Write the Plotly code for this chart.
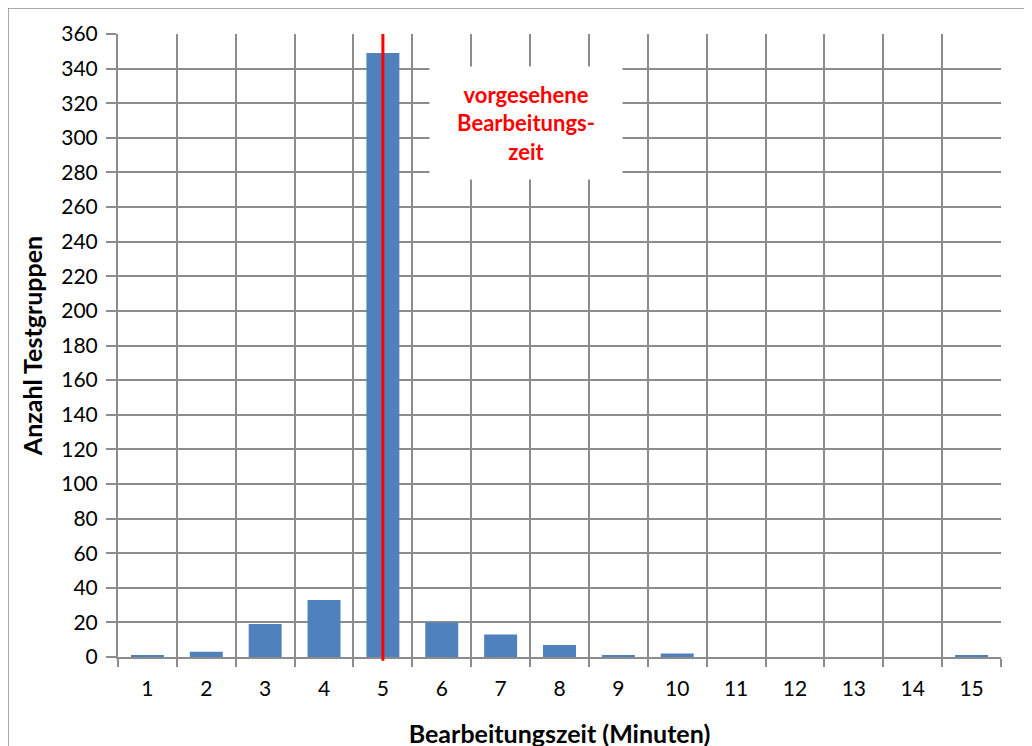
import plotly.graph_objects as go

minutes = [str(i) for i in range(1, 16)]
counts = [1, 3, 19, 33, 349, 20, 13, 7, 1, 2, 0, 0, 0, 0, 1]
target_minute = "5"
annotation_text = "vorgesehene<br>Bearbeitungs-<br>zeit"
x_title = "Bearbeitungszeit (Minuten)"
y_title = "Anzahl Testgruppen"

FONT = "Lato, Open Sans, sans-serif"
GRID = "#8c8c8c"

# page body has an 8px margin in the browser
OFF = 8
L, R, T, B = 118 - OFF, 31 + OFF, 34 - OFF, 89 + OFF
W, H = 1032, 746
pw, ph = W - L - R, H - T - B

fig = go.Figure()
fig.add_trace(go.Bar(
    x=minutes, y=counts,
    marker=dict(color="#4F81BD", line=dict(width=0)),
    width=0.56,
))

tidx = minutes.index(target_minute)
fig.add_shape(type="line", xref="x", yref="paper", x0=tidx, x1=tidx,
              y0=-0.006, y1=1, line=dict(color="#ff0000", width=3), layer="above")

# outer chart border (screen coords 7,7)
bx0, by0 = 7 - OFF, 7 - OFF
fig.add_shape(type="rect", xref="paper", yref="paper",
              x0=(bx0 + 1 - L) / pw, x1=(1040 - L) / pw,
              y0=-(760 - (H - B)) / ph, y1=((H - B) - (by0 + 1)) / ph,
              line=dict(color="#8c8c8c", width=1.5), fillcolor="rgba(0,0,0,0)", layer="below")

fig.add_annotation(
    text=annotation_text, xref="paper", yref="paper",
    x=(526 - OFF - L) / pw, y=((H - B) - (123 - OFF)) / ph, showarrow=False,
    xanchor="center", yanchor="middle",
    font=dict(family=FONT, size=22, color="#ff0000", weight="bold"),
    bgcolor="white", width=190, height=110, align="center", valign="middle",
)

fig.update_layout(
    width=W, height=H,
    margin=dict(l=L, r=R, t=T, b=B),
    paper_bgcolor="white", plot_bgcolor="white",
    showlegend=False,
    font=dict(family=FONT, size=20, color="black"),
    xaxis=dict(
        type="category", tickson="boundaries", showgrid=True, automargin=False,
        gridcolor=GRID, gridwidth=2, ticks="outside", ticklen=8,
        tickcolor=GRID, tickwidth=2, showline=True, linecolor=GRID, linewidth=2,
        tickfont=dict(size=21), ticklabelstandoff=12,
        title=dict(text=x_title, font=dict(size=25, weight="bold"), standoff=26),
    ),
    yaxis=dict(
        range=[0, 360], dtick=20, showgrid=True, gridcolor=GRID, gridwidth=2,
        ticks="outside", ticklen=10, tickcolor=GRID, tickwidth=2, automargin=False,
        showline=True, linecolor=GRID, linewidth=2, zeroline=False,
        tickfont=dict(size=21), ticklabelstandoff=4,
        title=dict(text=y_title, font=dict(size=25, weight="bold"), standoff=12),
    ),
)

fig.write_html("out.html")
